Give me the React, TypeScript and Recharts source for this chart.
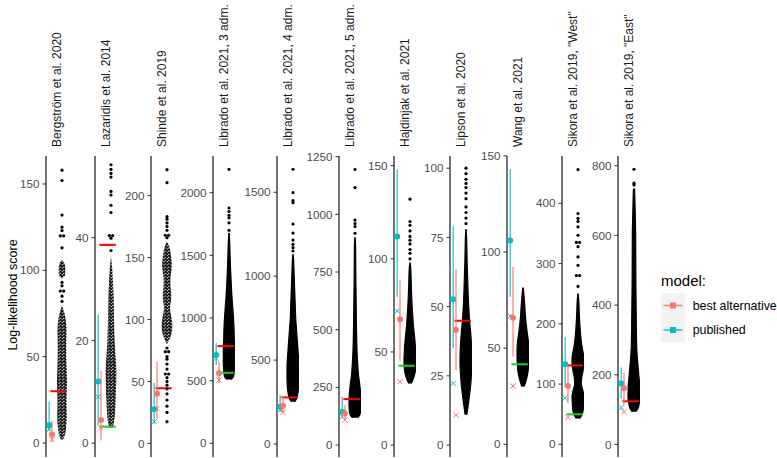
import React from 'react';
import { ComposedChart, XAxis, YAxis, Scatter, Area, ReferenceLine } from 'recharts';

// facet labels and y axes
const studies = [
  'Bergström et al. 2020',
  'Lazaridis et al. 2014',
  'Shinde et al. 2019',
  'Librado et al. 2021, 3 adm.',
  'Librado et al. 2021, 4 adm.',
  'Librado et al. 2021, 5 adm.',
  'Hajdinjak et al. 2021',
  'Lipson et al. 2020',
  'Wang et al. 2021',
  'Sikora et al. 2019, "West"',
  'Sikora et al. 2019, "East"',
];
const yTicks = [
  [0, 50, 100, 150], [0, 20, 40], [0, 50, 100, 150, 200], [0, 500, 1000, 1500, 2000],
  [0, 500, 1000, 1500], [0, 250, 500, 750, 1000, 1250], [0, 50, 100, 150], [0, 25, 50, 75, 100],
  [0, 50, 100, 150], [0, 100, 200, 300, 400], [0, 200, 400, 600, 800],
];
const yDomains = [
  [-8.1, 166.2], [-2.7, 55.9], [-11, 232], [-109, 2293], [-77, 1716], [-52, 1253],
  [-6.4, 155.2], [-4.3, 104.4], [-6.6, 149.9], [-21, 478.5], [-36, 828],
];

// published model
const pubScore = [10.5, 12, 27.5, 705, 222, 144, 112, 52.7, 106, 132.8, 175];
const pubLow = [7, 3.5, 16, 625, 192, 120, 79.6, 35, 76.7, 94.6, 132];
const pubHigh = [24, 25, 48.7, 798, 292, 209, 148, 79, 143, 177.6, 221];
const pubCross = [8, 9, 17.5, 678, 203, 123, 72, 22.3, 66.7, 77, 106];

// best alternative model
const altScore = [5, 4.5, 40, 559, 228, 137, 67.5, 41.6, 65.8, 97, 161];
const altLow = [0.8, 0.5, 20, 479, 185, 108, 45, 27, 45.5, 68, 113];
const altHigh = [13, 14, 66, 651, 282, 173, 88.6, 63.6, 92.3, 128.8, 206];
const altCross = [2, 3, 28, 505, 190, 108, 34, 10.8, 30.3, 44.8, 94];

// reference lines
const redLine = [30, 38.6, 44.5, 776, 278, 199, null, 44.9, null, 131, 124];
const greenLine = [null, 3.2, null, 563, null, null, 42.6, null, 41.6, 49.8, null];

// distribution of random-graph scores: levels and relative width of the swarm
const cloudLevels = [
  [2, 5, 10, 15, 25, 35, 45, 55, 65, 72, 77, 80, 95, 97, 101, 104, 106],
  [3, 5, 8, 11, 14, 17, 20, 24, 28, 31, 34, 36.5],
  [80, 85, 90, 95, 100, 105, 110, 115, 120, 125, 130, 135, 140, 145, 150, 155, 160, 163],
  [510, 530, 560, 600, 650, 700, 750, 800, 900, 1000, 1100, 1200, 1300, 1400, 1500, 1600, 1650, 1680],
  [252, 270, 300, 350, 400, 450, 500, 550, 600, 650, 700, 750, 800, 900, 1000, 1050, 1100, 1130],
  [118, 130, 150, 180, 220, 260, 300, 350, 400, 500, 600, 700, 800, 880, 900],
  [33, 36, 40, 45, 50, 55, 60, 65, 70, 75, 80, 85, 90, 95, 98],
  [11, 15, 20, 25, 30, 35, 40, 45, 50, 55, 60, 65, 70, 75, 78],
  [30, 33, 37, 42, 47, 52, 57, 62, 67, 72, 76, 79, 81.5],
  [43, 50, 60, 70, 80, 90, 100, 110, 120, 130, 140, 150, 160, 180, 200, 220, 240, 250],
  [94, 105, 120, 140, 170, 200, 240, 280, 330, 400, 500, 600, 650, 700, 730, 735],
];
const cloudWidths = [
  [0.2, 0.5, 0.7, 0.8, 0.75, 0.85, 0.75, 0.7, 0.75, 0.6, 0.25, 0, 0, 0.5, 0.55, 0.4, 0],
  [0.3, 0.6, 0.75, 0.85, 0.9, 0.75, 0.6, 0.5, 0.45, 0.35, 0.2, 0],
  [0, 0.5, 0.8, 0.9, 0.8, 0.6, 0.5, 0.65, 0.7, 0.6, 0.55, 0.6, 0.75, 0.8, 0.7, 0.55, 0.3, 0],
  [0.3, 0.7, 0.85, 0.9, 0.95, 0.95, 0.95, 0.9, 0.85, 0.75, 0.6, 0.45, 0.35, 0.25, 0.18, 0.12, 0.06, 0],
  [0.3, 0.6, 0.8, 0.95, 1, 1, 0.95, 0.85, 0.75, 0.65, 0.55, 0.45, 0.4, 0.3, 0.2, 0.15, 0.1, 0],
  [0.4, 0.8, 0.95, 1, 0.95, 0.8, 0.6, 0.45, 0.35, 0.25, 0.2, 0.15, 0.12, 0.08, 0],
  [0.2, 0.6, 0.9, 1, 0.95, 0.85, 0.7, 0.55, 0.45, 0.35, 0.28, 0.22, 0.18, 0.12, 0],
  [0.15, 0.4, 0.7, 0.9, 1, 0.95, 0.8, 0.6, 0.45, 0.35, 0.28, 0.2, 0.15, 0.1, 0],
  [0.2, 0.5, 0.8, 0.95, 1, 0.95, 0.75, 0.55, 0.4, 0.3, 0.2, 0.12, 0],
  [0.3, 0.7, 0.9, 0.95, 1, 0.8, 0.55, 0.6, 0.8, 0.95, 1, 0.9, 0.7, 0.45, 0.3, 0.2, 0.12, 0],
  [0.3, 0.7, 0.9, 1, 0.95, 0.8, 0.6, 0.45, 0.4, 0.35, 0.3, 0.28, 0.22, 0.15, 0.1, 0],
];
// isolated scores (repeats sit side by side)
const cloudOutliers = [
  [82, 85, 88, 88, 91, 93, 113, 120, 120, 123, 125, 132, 152, 158],
  [37.5, 39.9, 40.4, 40.4, 44.9, 46.3, 48.3, 49, 51.8, 52.5, 53.3, 54.2],
  [17.5, 25, 30, 35, 40, 44, 47, 50, 53, 56, 56, 60, 64, 68, 70, 74, 74, 77, 166, 168, 168, 172, 175, 178, 181, 183, 210.5, 221],
  [1700, 1760, 1800, 1820, 1850, 1878, 2187],
  [1150, 1170, 1190, 1215, 1257, 1311, 1438, 1450, 1498, 1637],
  [918, 947, 960, 975, 1116, 1195],
  [100, 103, 105, 108, 110, 112, 115, 118, 120, 132],
  [80, 82, 84, 86, 89, 91, 93, 94.5, 96, 98, 100],
  [],
  [262, 280, 280, 297, 311, 328, 335, 335, 347, 361, 370, 375, 383, 456],
  [745, 750, 790],
];

const axisX = [46, 95, 151, 213, 277, 339, 394, 450, 507, 562, 618];
const PANEL_W = 22;
const AXIS_W = 44;
const TOP = 156;
const PAD = 10;
const CHART_H = 301;
const X_PUB = 3.2;
const X_ALT = 6;
const X_LINE0 = 4.4;
const X_LINE1 = 20.8;
const X_CLOUD = 16;
const CLOUD_HALF = 6;
const DOT_GAP = 3.3;
const TEAL = '#00BFC4';
const SALMON = '#F8766D';
const FONT = '"Liberation Sans", Arial, Helvetica, sans-serif';

const Dot = (r: number, color: string) => (p: any) =>
  <circle cx={p.cx} cy={p.cy} r={r} fill={color} />;

const Cross = (color: string) => (p: any) => {
  const s = 2.6;
  return (
    <g stroke={color} strokeWidth={1}>
      <line x1={p.cx - s} y1={p.cy - s} x2={p.cx + s} y2={p.cy + s} />
      <line x1={p.cx - s} y1={p.cy + s} x2={p.cx + s} y2={p.cy - s} />
    </g>
  );
};

function swarm(values: number[]) {
  const count: Record<string, number> = {};
  values.forEach((v) => { count[v] = (count[v] || 0) + 1; });
  const seen: Record<string, number> = {};
  return values.map((v) => {
    const j = seen[v] || 0;
    seen[v] = j + 1;
    return { x: X_CLOUD + (j - (count[v] - 1) / 2) * DOT_GAP, v };
  });
}

function Panel({ i }: { i: number }) {
  const cloud = cloudLevels[i].map((v, k) => ({
    v,
    range: [X_CLOUD - cloudWidths[i][k] * CLOUD_HALF, X_CLOUD + cloudWidths[i][k] * CLOUD_HALF],
  }));
  const dotted = i < 3;
  return (
    <div style={{ position: 'absolute', left: axisX[i] - AXIS_W, top: TOP - PAD }}>
      <ComposedChart width={AXIS_W + PANEL_W} height={CHART_H + PAD} data={cloud} layout="vertical"
        margin={{ top: PAD, right: 0, bottom: 0, left: 0 }}>
        <XAxis type="number" dataKey="x" domain={[0, PANEL_W]} hide allowDataOverflow />
        <YAxis type="number" dataKey="v" domain={yDomains[i]} ticks={yTicks[i]} allowDataOverflow
          reversed width={AXIS_W} interval={0} tickSize={3.5} tickMargin={3} stroke="#333"
          axisLine={{ stroke: '#000', strokeWidth: 1.1 }} tickLine={{ stroke: '#333' }}
          tick={{ fontSize: 11.7, fill: '#4D4D4D', fontFamily: FONT }} />
        <Area dataKey="range" type="monotone" isAnimationActive={false}
          fill={dotted ? 'url(#swarmDots)' : '#000'} fillOpacity={1}
          stroke={dotted ? 'none' : '#000'} strokeWidth={1.2} />
        <Scatter data={swarm(cloudOutliers[i])} dataKey="v" isAnimationActive={false} shape={Dot(1.6, '#000')} />
        {redLine[i] != null && (
          <ReferenceLine segment={[{ x: X_LINE0, y: redLine[i] }, { x: X_LINE1, y: redLine[i] }]}
            stroke="#FF0000" strokeWidth={2} />
        )}
        {greenLine[i] != null && (
          <ReferenceLine segment={[{ x: X_LINE0, y: greenLine[i] }, { x: X_LINE1, y: greenLine[i] }]}
            stroke="#22CC22" strokeWidth={2} />
        )}
        <ReferenceLine segment={[{ x: X_PUB, y: pubLow[i] }, { x: X_PUB, y: pubHigh[i] }]}
          stroke={TEAL} strokeOpacity={0.8} strokeWidth={1.4} />
        <ReferenceLine segment={[{ x: X_ALT, y: altLow[i] }, { x: X_ALT, y: altHigh[i] }]}
          stroke={SALMON} strokeOpacity={0.8} strokeWidth={1.4} />
        <Scatter data={[{ x: X_PUB, v: pubCross[i] }]} dataKey="v" isAnimationActive={false} shape={Cross(TEAL)} />
        <Scatter data={[{ x: X_ALT, v: altCross[i] }]} dataKey="v" isAnimationActive={false} shape={Cross(SALMON)} />
        <Scatter data={[{ x: X_PUB, v: pubScore[i] }]} dataKey="v" isAnimationActive={false} shape={Dot(3, TEAL)} />
        <Scatter data={[{ x: X_ALT, v: altScore[i] }]} dataKey="v" isAnimationActive={false} shape={Dot(3, SALMON)} />
      </ComposedChart>
    </div>
  );
}

export default function App() {
  return (
    <div style={{ position: 'absolute', left: 0, top: 0, width: 777, height: 458, background: '#fff', fontFamily: FONT, overflow: 'hidden' }}>
      {studies.map((_, i) => <Panel key={i} i={i} />)}
      <svg width={777} height={458} style={{ position: 'absolute', left: 0, top: 0, pointerEvents: 'none' }}>
        <defs>
          <pattern id="swarmDots" patternUnits="userSpaceOnUse" width={3.6} height={3.2}>
            <circle cx={0.9} cy={0.8} r={1.45} fill="#000" />
            <circle cx={2.7} cy={2.4} r={1.45} fill="#000" />
          </pattern>
        </defs>
        {studies.map((s, i) => (
          <text key={s} transform={`translate(${axisX[i] + 10.8}, 147) rotate(-90)`}
            fontSize={12} fill="#1A1A1A" dominantBaseline="central">{s}</text>
        ))}
        <text transform="translate(13, 295) rotate(-90)" textAnchor="middle" dominantBaseline="central"
          fontSize={12.5} fill="#000">Log-likelihood score</text>
        <text x={661} y={280} fontSize={15} dominantBaseline="central" fill="#000">model:</text>
        <rect x={661} y={293} width={24} height={49} fill="#F2F2F2" />
        <line x1={663.5} x2={682.5} y1={305.5} y2={305.5} stroke={SALMON} strokeWidth={1.4} />
        <rect x={670} y={302.5} width={6} height={6} fill={SALMON} />
        <line x1={663.5} x2={682.5} y1={330} y2={330} stroke={TEAL} strokeWidth={1.4} />
        <rect x={670} y={327} width={6} height={6} fill={TEAL} />
        <text x={692.7} y={305.5} fontSize={12.4} dominantBaseline="central" fill="#000">best alternative</text>
        <text x={692.7} y={330} fontSize={12.4} dominantBaseline="central" fill="#000">published</text>
      </svg>
    </div>
  );
}
